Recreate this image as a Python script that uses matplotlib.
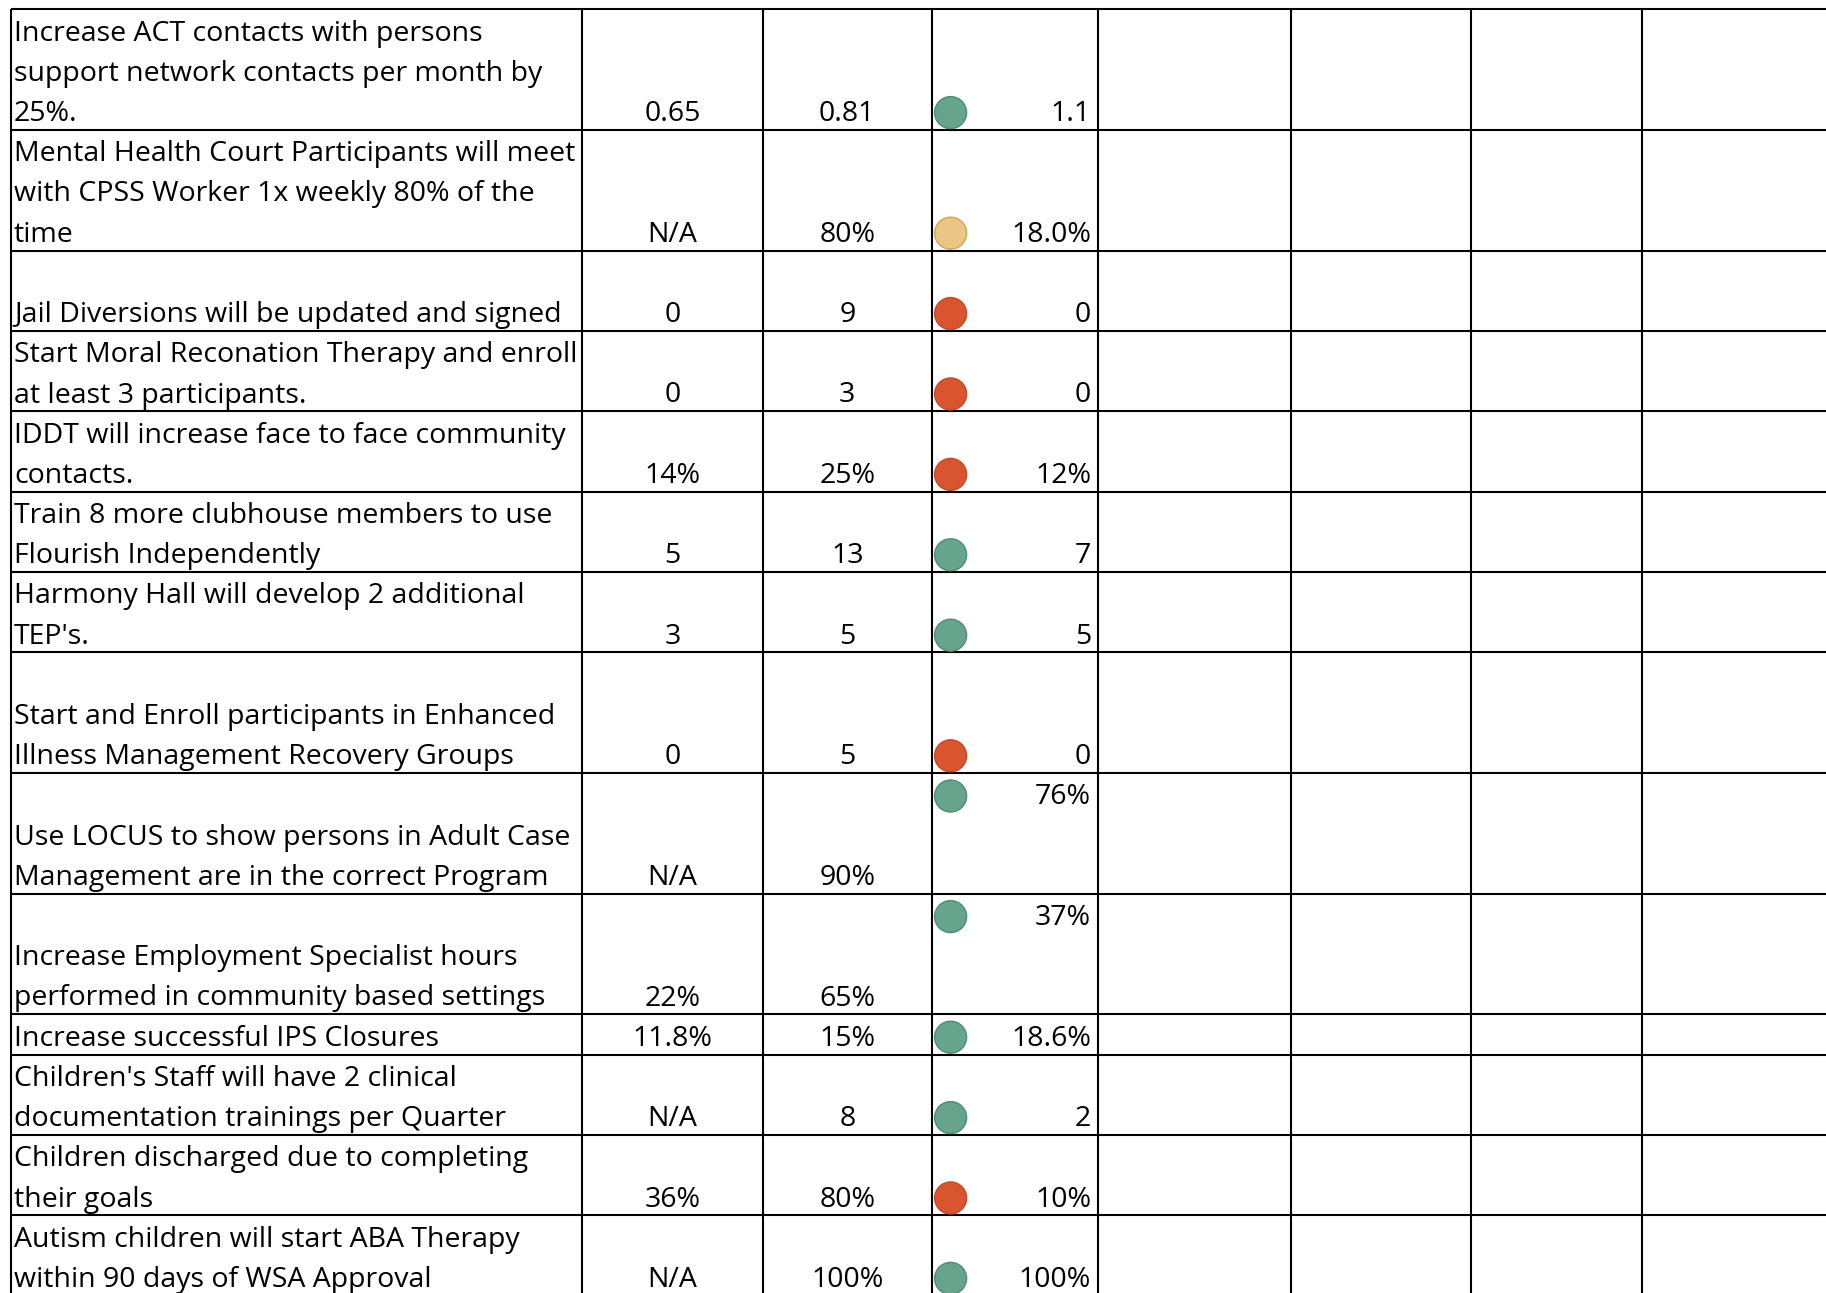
import matplotlib.pyplot as plt
from matplotlib.patches import Circle

plt.rcParams['font.family'] = ['Open Sans', 'DejaVu Sans']

goals = [
    ["Increase ACT contacts with persons", "support network contacts per month by", "25%."],
    ["Mental Health Court Participants will meet", "with CPSS Worker 1x weekly 80% of the", "time"],
    ["Jail Diversions will be updated and signed"],
    ["Start Moral Reconation Therapy and enroll", "at least 3 participants."],
    ["IDDT will increase face to face community", "contacts."],
    ["Train 8 more clubhouse members to use", "Flourish Independently"],
    ["Harmony Hall will develop 2 additional", "TEP's."],
    ["Start and Enroll participants in Enhanced", "Illness Management Recovery Groups"],
    ["Use LOCUS to show persons in Adult Case", "Management are in the correct Program"],
    ["Increase Employment Specialist hours", "performed in community based settings"],
    ["Increase successful IPS Closures"],
    ["Children's Staff will have 2 clinical", "documentation trainings per Quarter"],
    ["Children discharged due to completing", "their goals"],
    ["Autism children will start ABA Therapy", "within 90 days of WSA Approval"],
]
row_lines = [3, 3, 2, 2, 2, 2, 2, 3, 3, 3, 1, 2, 2, 2]
baseline = ["0.65", "N/A", "0", "0", "14%", "5", "3", "0", "N/A", "22%", "11.8%", "N/A", "36%", "N/A"]
target = ["0.81", "80%", "9", "3", "25%", "13", "5", "5", "90%", "65%", "15%", "8", "80%", "100%"]
actual = ["1.1", "18.0%", "0", "0", "12%", "7", "5", "0", "76%", "37%", "18.6%", "2", "10%", "100%"]
status = ["green", "yellow", "red", "red", "red", "green", "green", "red",
          "green", "green", "green", "green", "red", "green"]
actual_at_top = [False] * 8 + [True, True] + [False] * 4

fill = {"green": "#66a48c", "yellow": "#ebc584", "red": "#d8552f"}
edge = {"green": "#4f8c74", "yellow": "#c9a55f", "red": "#c04a28"}

W, H = 1826, 1293
col_x = [11, 582, 763, 931.6, 1098, 1291.4, 1471, 1642]
top = 9.3
line_h = 40.2
pad_b = 8.8
fs = 20.5
lw = 1.5

fig = plt.figure(figsize=(W / 100, H / 100), dpi=100)
ax = fig.add_axes([0, 0, 1, 1])
ax.set_xlim(0, W)
ax.set_ylim(H, 0)
ax.axis('off')

# row boundaries
edges_y = [top]
for n in row_lines:
    edges_y.append(edges_y[-1] + n * line_h)

for y in edges_y:
    ax.plot([col_x[0], W], [y, y], color='black', lw=lw, solid_capstyle='butt')
for x in col_x:
    ax.plot([x, x], [top, H], color='black', lw=lw, solid_capstyle='butt')

for i, lines in enumerate(goals):
    y_top, y_bot = edges_y[i], edges_y[i + 1]
    n = len(lines)
    for j, t in enumerate(lines):
        yb = y_bot - pad_b - (n - 1 - j) * line_h
        ax.text(col_x[0] + 3, yb, t, fontsize=fs, va='baseline', ha='left')
    yb = y_bot - pad_b
    ax.text((col_x[1] + col_x[2]) / 2, yb, baseline[i], fontsize=fs, va='baseline', ha='center')
    ax.text((col_x[2] + col_x[3]) / 2, yb, target[i], fontsize=fs, va='baseline', ha='center')
    ya = y_top + line_h - pad_b if actual_at_top[i] else yb
    ax.text(col_x[4] - 7, ya, actual[i], fontsize=fs, va='baseline', ha='right')
    cy = ya - 8.5
    ax.add_patch(Circle((col_x[3] + 19, cy), 16, facecolor=fill[status[i]],
                        edgecolor=edge[status[i]], lw=1.0, zorder=3))

fig.savefig("out.png", dpi=100)
